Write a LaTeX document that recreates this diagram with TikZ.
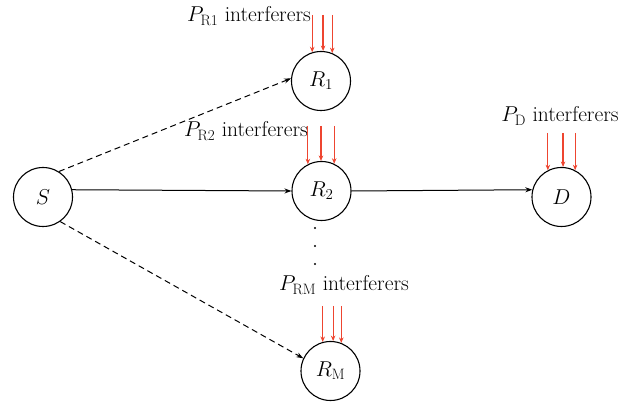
\RequirePackage{fix-cm}
\documentclass[tikz,border=0pt]{standalone}
\usepackage{amsmath,amssymb}
\usepackage{fontspec}
\usepackage{xcolor}
\usepackage{tikz}
\usetikzlibrary{arrows.meta}
\definecolor{intred}{HTML}{EE4530}

\begin{document}
\begin{tikzpicture}[x=1pt,y=1pt,
    every node/.style={font=\fontsize{21.5}{24}\selectfont},
    term/.style={circle,draw,line width=1.1pt,minimum size=59pt,inner sep=0pt},
    link/.style={line width=1pt,-{Stealth[length=7pt,width=5pt]}},
    intf/.style={intred,line width=1.2pt,-{Stealth[length=5.5pt,width=4.5pt]}}]
    \useasboundingbox (0,0) rectangle (638,402);
    \node[term] (S) at (43,205) {$S$};
    \node[term] (R1) at (321,321) {$R_1$};
    \node[term] (R2) at (321.5,211) {$R_2$};
    \node[term] (RM) at (330.5,31) {$R_{\mathrm{M}}$};
    \node[term] (D) at (561.5,205) {$D$};
    \draw[link,dash pattern=on 6pt off 4pt] (S.58) -- (R1.175);
    \draw[link] (S.14) -- (R2.west);
    \draw[link,dash pattern=on 6pt off 4pt] (S.-55) -- (RM.155);
    \draw[link] (R2.east) -- (D.166);
    \foreach \y in {174,156,138} \fill (315,\y) circle (1.2);
    \node (l1) at (249,386) {$P_{\mathrm{R1}}$ interferers};
    \node (l2) at (246,271) {$P_{\mathrm{R2}}$ interferers};
    \node (lM) at (344,117) {$P_{\mathrm{RM}}$ interferers};
    \node (lD) at (560,286) {$P_{\mathrm{D}}$ interferers};
    \coordinate (t1) at (0,387);
    \coordinate (t2) at (0,276);
    \coordinate (tM) at (0,96);
    \coordinate (tD) at (0,269);
    \foreach \a in {107,86,68} \draw[intf] (R1.\a |- t1) -- (R1.\a);
    \foreach \a in {117,91,65} \draw[intf] (R2.\a |- t2) -- (R2.\a);
    \foreach \a in {105,85,69} \draw[intf] (RM.\a |- tM) -- (RM.\a);
    \foreach \a in {117,87,63} \draw[intf] (D.\a |- tD) -- (D.\a);
  \end{tikzpicture}
\end{document}
